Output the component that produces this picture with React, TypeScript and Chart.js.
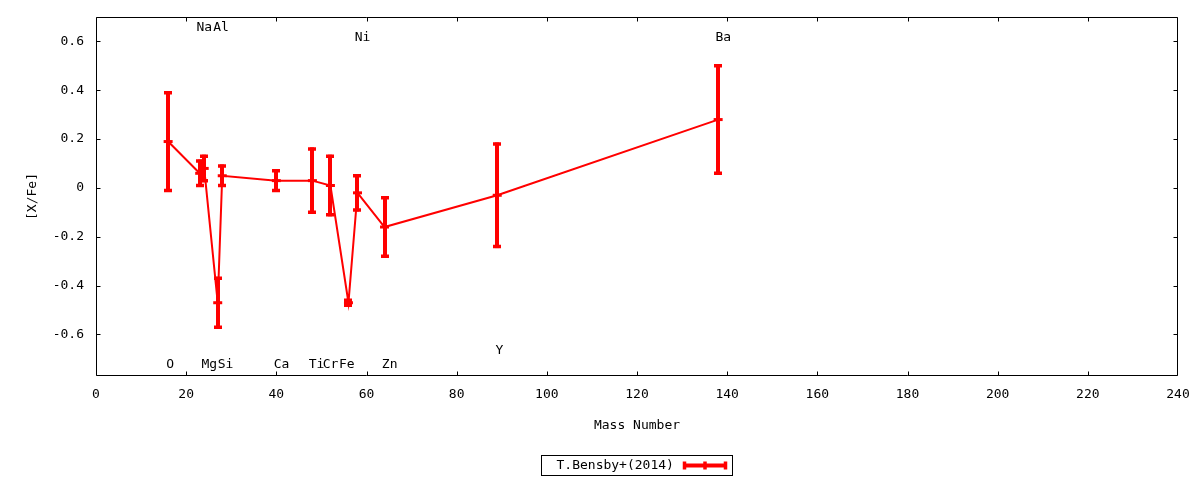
import { useEffect, useRef } from 'react';
import { Chart, registerables } from 'chart.js';

Chart.register(...registerables);

// ---- data ----
const seriesLabel = 'T.Bensby+(2014)';
const massNumber = [16, 23, 24, 27, 28, 40, 48, 52, 56, 58, 64, 89, 138];
const abundance = [0.19, 0.06, 0.08, -0.47, 0.05, 0.03, 0.03, 0.01, -0.47, -0.02, -0.16, -0.03, 0.28];
const abundanceError = [0.2, 0.05, 0.05, 0.1, 0.04, 0.04, 0.13, 0.12, 0.01, 0.07, 0.12, 0.21, 0.22];

const elementNames = ['O', 'Na', 'Mg', 'Al', 'Si', 'Ca', 'Ti', 'Cr', 'Fe', 'Ni', 'Zn', 'Y', 'Ba'];
const elementLabelX = [15.6, 22.3, 23.4, 26.0, 27.0, 39.4, 47.2, 50.3, 53.9, 57.4, 63.4, 88.6, 137.4];
const elementLabelY = [-0.723, 0.657, -0.723, 0.657, -0.723, -0.723, -0.723, -0.723, -0.723, 0.615, -0.723, -0.665, 0.615];

const xTickValues = [0, 20, 40, 60, 80, 100, 120, 140, 160, 180, 200, 220, 240];
const yTickValues = [-0.6, -0.4, -0.2, 0, 0.2, 0.4, 0.6];

const xTitle = 'Mass Number';
const yTitle = '[X/Fe]';

// ---- styles ----
const FAMILY = '"DejaVu Sans Mono", monospace';
const FONT_SIZE = 13;
const RED = '#ff0000';
const BLACK = '#000000';

const gnuplotPlugin = {
  id: 'gnuplotDecor',
  afterDatasetsDraw(chart: any) {
    const { ctx, scales } = chart;
    const xs = scales.x;
    const ys = scales.y;
    ctx.save();
    ctx.strokeStyle = RED;
    ctx.lineCap = 'butt';
    for (let i = 0; i < massNumber.length; i++) {
      const px = Math.round(xs.getPixelForValue(massNumber[i]));
      const yt = ys.getPixelForValue(abundance[i] + abundanceError[i]);
      const yb = ys.getPixelForValue(abundance[i] - abundanceError[i]);
      ctx.lineWidth = 4;
      ctx.beginPath();
      ctx.moveTo(px, yt - 1.5);
      ctx.lineTo(px, yb + 1.5);
      ctx.stroke();
      ctx.lineWidth = 3.5;
      ctx.beginPath();
      ctx.moveTo(px - 4, yt);
      ctx.lineTo(px + 4, yt);
      ctx.moveTo(px - 4, yb);
      ctx.lineTo(px + 4, yb);
      ctx.stroke();
    }
    ctx.restore();
  },
  afterDraw(chart: any) {
    const { ctx, chartArea: a, scales } = chart;
    const xs = scales.x;
    const ys = scales.y;
    ctx.save();

    // frame
    ctx.strokeStyle = BLACK;
    ctx.lineWidth = 1;
    const L = Math.round(a.left) + 0.5;
    const R = Math.round(a.right) - 0.5;
    const T = Math.round(a.top) + 0.5;
    const B = Math.round(a.bottom) - 0.5;
    ctx.beginPath();
    ctx.moveTo(L, T);
    ctx.lineTo(R, T);
    ctx.lineTo(R, B);
    ctx.lineTo(L, B);
    ctx.closePath();
    ctx.stroke();

    // inward ticks (mirrored)
    const tl = 4;
    ctx.beginPath();
    xs.ticks.forEach((t: any) => {
      const px = Math.min(R, Math.max(L, Math.round(xs.getPixelForValue(t.value)) + 0.5));
      ctx.moveTo(px, B);
      ctx.lineTo(px, B - tl);
      ctx.moveTo(px, T);
      ctx.lineTo(px, T + tl);
    });
    ys.ticks.forEach((t: any) => {
      const py = Math.round(ys.getPixelForValue(t.value)) + 0.5;
      ctx.moveTo(L, py);
      ctx.lineTo(L + tl, py);
      ctx.moveTo(R, py);
      ctx.lineTo(R - tl, py);
    });
    ctx.stroke();

    // element labels
    ctx.font = `${FONT_SIZE}px ${FAMILY}`;
    ctx.fillStyle = BLACK;
    ctx.textAlign = 'left';
    ctx.textBaseline = 'middle';
    elementNames.forEach((name, i) => {
      ctx.fillText(name, xs.getPixelForValue(elementLabelX[i]), ys.getPixelForValue(elementLabelY[i]));
    });

    // legend box
    const label = chart.data.datasets[0].label as string;
    const tw = ctx.measureText(label).width;
    const sampleW = 44;
    const boxW = Math.round(15 + tw + 9 + sampleW + 6);
    const cx = (a.left + a.right) / 2 - 1;
    const bx = Math.round(cx - boxW / 2) + 0.5;
    const by = 455.5;
    const bh = 20;
    ctx.strokeStyle = BLACK;
    ctx.lineWidth = 1;
    ctx.strokeRect(bx, by, boxW, bh);
    const ly = by + bh / 2;
    ctx.textAlign = 'right';
    ctx.fillText(label, bx + 15 + tw, ly);
    const sx = Math.round(bx + 15 + tw + 9);
    ctx.strokeStyle = RED;
    ctx.lineWidth = 4;
    ctx.beginPath();
    ctx.moveTo(sx, ly);
    ctx.lineTo(sx + sampleW, ly);
    ctx.stroke();
    ctx.lineWidth = 3.5;
    ctx.beginPath();
    [sx + 1.5, sx + sampleW / 2, sx + sampleW - 1.5].forEach((vx) => {
      ctx.moveTo(vx, ly - 4);
      ctx.lineTo(vx, ly + 4);
    });
    ctx.stroke();

    ctx.restore();
  },
};

export default function App() {
  const canvasRef = useRef<HTMLCanvasElement | null>(null);

  useEffect(() => {
    document.body.style.margin = '0';
    const canvas = canvasRef.current;
    if (!canvas) return;
    const font = { family: FAMILY, size: FONT_SIZE };
    const chart = new Chart(canvas, {
      type: 'line',
      data: {
        datasets: [
          {
            label: seriesLabel,
            data: massNumber.map((m, i) => ({ x: m, y: abundance[i] })),
            borderColor: RED,
            backgroundColor: RED,
            borderWidth: 2,
            pointStyle: 'line',
            pointRadius: 4.5,
            pointBorderWidth: 3,
            pointBorderColor: RED,
            pointBackgroundColor: RED,
            tension: 0,
            fill: false,
          },
        ],
      },
      options: {
        animation: false,
        responsive: false,
        devicePixelRatio: 1,
        layout: { padding: { left: 0, right: 22, top: 17, bottom: 0 } },
        plugins: {
          legend: { display: false },
          tooltip: { enabled: false },
        },
        scales: {
          x: {
            type: 'linear',
            min: 0,
            max: 240,
            grid: { display: false, drawTicks: false },
            border: { display: false },
            afterBuildTicks: (s: any) => {
              s.ticks = xTickValues.map((v) => ({ value: v }));
            },
            afterFit: (s: any) => {
              s.height = 104;
              s.paddingLeft = 0;
              s.paddingRight = 0;
              s.paddingTop = 0;
              s.paddingBottom = 0;
            },
            ticks: {
              font,
              color: BLACK,
              padding: 11,
              autoSkip: false,
              maxRotation: 0,
              callback: (v: any) => String(v),
            },
            title: {
              display: true,
              text: xTitle,
              font,
              color: BLACK,
              padding: { top: 0, bottom: 47 },
            },
          },
          y: {
            type: 'linear',
            min: -0.77,
            max: 0.7,
            grid: { display: false, drawTicks: false },
            border: { display: false },
            afterBuildTicks: (s: any) => {
              s.ticks = yTickValues.map((v) => ({ value: v }));
            },
            afterFit: (s: any) => {
              s.width = 96;
              s.paddingLeft = 0;
              s.paddingRight = 0;
              s.paddingTop = 0;
              s.paddingBottom = 0;
            },
            ticks: {
              font,
              color: BLACK,
              padding: 12,
              autoSkip: false,
              callback: (v: any) => {
                const n = Number(v);
                return Math.abs(n) < 1e-9 ? '0' : n.toFixed(1);
              },
            },
            title: {
              display: true,
              text: yTitle,
              font,
              color: BLACK,
              padding: { top: 25, bottom: 0 },
            },
          },
        },
      },
      plugins: [gnuplotPlugin],
    } as any);
    return () => chart.destroy();
  }, []);

  return (
    <div style={{ width: 1200, height: 480, background: '#fff' }}>
      <canvas ref={canvasRef} width={1200} height={480} style={{ width: 1200, height: 480, display: 'block' }} />
    </div>
  );
}
